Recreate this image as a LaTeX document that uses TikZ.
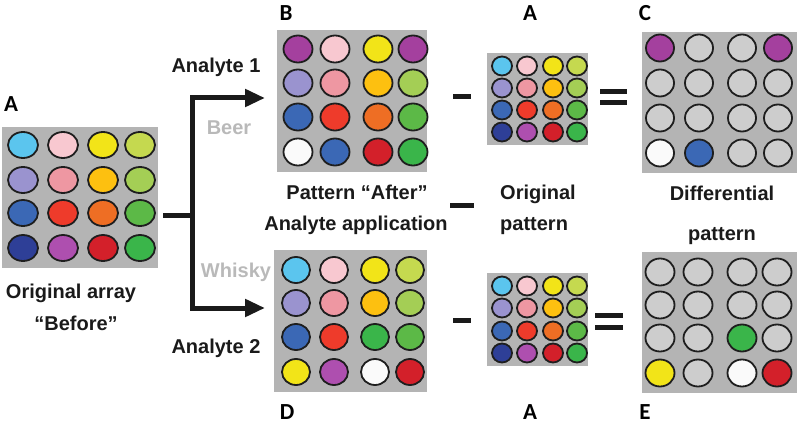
\documentclass[tikz,border=0pt]{standalone}
\usepackage{fontspec}
\setmainfont{Liberation Sans}
\newfontfamily\letterfont{Carlito}
\usetikzlibrary{arrows.meta}
\definecolor{boxgray}{HTML}{B4B4B4}
\definecolor{wellline}{HTML}{1E1E1E}
\definecolor{txt}{HTML}{1A1A1A}
\definecolor{beergray}{HTML}{B9B9B9}
\definecolor{lblue}{HTML}{5BC5EE}
\definecolor{lpink}{HTML}{F8C8D0}
\definecolor{yel}{HTML}{F2E418}
\definecolor{ygreen}{HTML}{C5D94F}
\definecolor{lav}{HTML}{9A93CF}
\definecolor{pink}{HTML}{EE97A2}
\definecolor{gold}{HTML}{FDC010}
\definecolor{lgreen}{HTML}{A4CE55}
\definecolor{blu}{HTML}{3B68B5}
\definecolor{rd}{HTML}{EE3B2B}
\definecolor{orng}{HTML}{EE6E24}
\definecolor{grn}{HTML}{5CB947}
\definecolor{dblue}{HTML}{2E3F97}
\definecolor{mag}{HTML}{AE4FAF}
\definecolor{dred}{HTML}{D3202A}
\definecolor{dgreen}{HTML}{3AB54A}
\definecolor{purp}{HTML}{A4409E}
\definecolor{empt}{HTML}{CDCDCD}
\definecolor{wht}{HTML}{FAFAFA}
\tikzset{
  panel/.style={fill=boxgray, draw=none, inner sep=0pt, outer sep=0pt},
  well/.style={draw=wellline, line width=1.8pt},
  lab/.style={font=\fontsize{20}{22}\selectfont\bfseries, text=txt, inner sep=0pt},
  grey label/.style={lab, text=beergray},
  letter/.style={font=\fontsize{23}{25}\selectfont\letterfont\bfseries, text=black, inner sep=0pt},
  opbar/.style={line width=5pt, draw=txt},
  flow/.style={line width=5pt, draw=txt, line join=miter, -{Triangle[length=20pt,width=17pt]}},
}
\newcommand{\wellgrid}[5]{%
  \foreach \c [count=\i from 0] in {#5}{%
    \pgfmathsetmacro\cx{{#1}[mod(\i,4)]}%
    \pgfmathsetmacro\cy{{#2}[int(\i/4)]}%
    \draw[well, fill=\c] (\cx,\cy) ellipse [x radius=#3, y radius=#4];
  }}
\begin{document}
\begin{tikzpicture}[x=1pt, y=-1pt]
\useasboundingbox (0,0) rectangle (800,425);
% panels
\node[panel, minimum width=156pt, minimum height=141pt] (boxA) at (80,197.5) {};
\node[panel, minimum width=150pt, minimum height=142pt] (boxB) at (352,101) {};
\node[panel, minimum width=101pt, minimum height=92pt] (boxA1) at (537.5,99) {};
\node[panel, minimum width=155pt, minimum height=141pt] (boxC) at (719.5,102.5) {};
\node[panel, minimum width=153pt, minimum height=142pt] (boxD) at (350.5,321) {};
\node[panel, minimum width=101pt, minimum height=93pt] (boxA2) at (537.5,319.5) {};
\node[panel, minimum width=155pt, minimum height=141pt] (boxE) at (719.5,322.5) {};
% wells
\wellgrid{23,63,103,140}{145,180,213,248}{15}{13}{lblue,lpink,yel,ygreen,lav,pink,gold,lgreen,blu,rd,orng,grn,dblue,mag,dred,dgreen}
\wellgrid{298,335,378,413}{49,83,117,152}{14.5}{13.5}{purp,lpink,yel,purp,lav,pink,gold,lgreen,blu,rd,orng,grn,wht,blu,dred,dgreen}
\wellgrid{502,527,553,577}{66,88,110,132}{10}{9.5}{lblue,lpink,yel,ygreen,lav,pink,gold,lgreen,blu,rd,orng,grn,dblue,mag,dred,dgreen}
\wellgrid{660,699,742,778}{48,83,118,153}{14}{13.5}{purp,empt,empt,purp,empt,empt,empt,empt,empt,empt,empt,empt,wht,blu,empt,empt}
\wellgrid{296,334,375,410}{270,303,337,372}{14}{13}{lblue,lpink,yel,ygreen,lav,pink,gold,lgreen,blu,rd,dgreen,grn,yel,mag,wht,dred}
\wellgrid{502,527,553,577}{286,308,331,353}{10}{9.5}{lblue,lpink,yel,ygreen,lav,pink,gold,lgreen,blu,rd,orng,grn,dblue,mag,dred,dgreen}
\wellgrid{660,698,742,777}{272,305,338,373}{14.5}{13.5}{empt,empt,empt,empt,empt,empt,empt,empt,empt,empt,dgreen,empt,yel,empt,wht,dred}
% branching arrows
\coordinate (s) at (163,215);
\coordinate (j) at (192,215);
\coordinate (t1) at (265,98);
\coordinate (t2) at (265,308);
\draw[flow] (s) -- (j) |- (t1);
\draw[flow] (j) |- (t2);
% operators
\draw[opbar] (453,97) -- (471,97);
\draw[opbar] (600,92) -- (627,92);
\draw[opbar] (600,103) -- (627,103);
\draw[opbar] (450,205) -- (474,205);
\draw[opbar] (453,320) -- (471,320);
\draw[opbar] (595,315) -- (623,315);
\draw[opbar] (595,327) -- (623,327);
% letters
\node[letter, anchor=base] (lA) at (11,112) {A};
\node[letter, anchor=base] (lB) at (286,21) {B};
\node[letter, anchor=base] (lA1) at (530,21) {A};
\node[letter, anchor=base] (lC) at (645,21) {C};
\node[letter, anchor=base] (lD) at (287,419) {D};
\node[letter, anchor=base] (lA2) at (530,419) {A};
\node[letter, anchor=base] (lE) at (645,419) {E};
% labels
\node[lab, anchor=base] (an1) at (216,73) {Analyte 1};
\node[grey label, anchor=base] (beer) at (229,135) {Beer};
\node[grey label, anchor=base] (whisky) at (236,277) {Whisky};
\node[lab, anchor=base] (an2) at (216,353) {Analyte 2};
\node[lab, anchor=base] (orig1) at (71,298) {Original array};
\node[lab, anchor=base] (orig2) at (76,330) {“Before”};
\node[lab, anchor=base] (pat1) at (357,199) {Pattern “After”};
\node[lab, anchor=base] (pat2) at (356,230) {Analyte application};
\node[lab, anchor=base west] (op1) at (500,199) {Original};
\node[lab, anchor=base west] (op2) at (500,230) {pattern};
\node[lab, anchor=base] (dp1) at (722,200) {Differential};
\node[lab, anchor=base] (dp2) at (722,240) {pattern};
\end{tikzpicture}
\end{document}
